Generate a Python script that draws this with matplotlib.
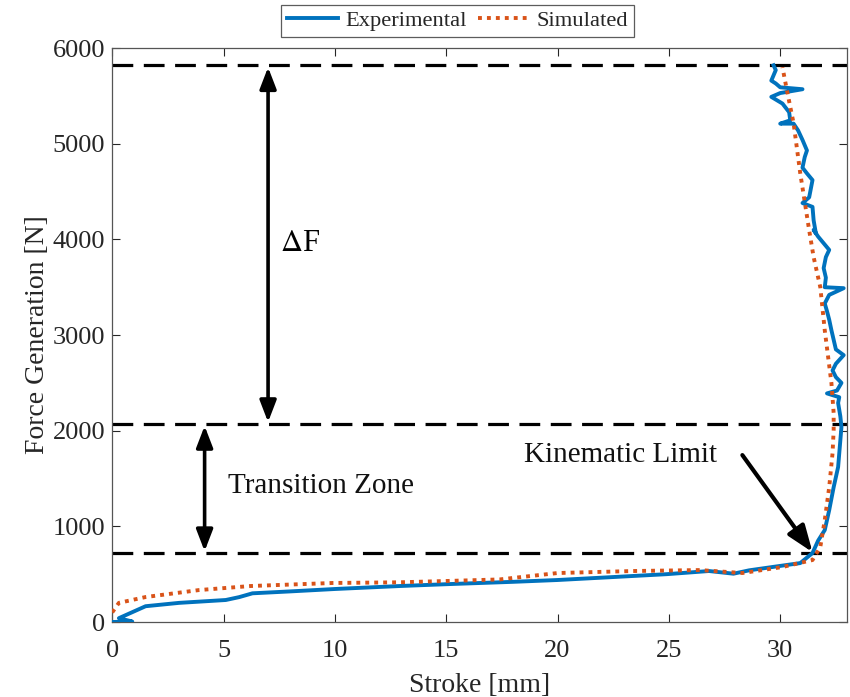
import matplotlib
matplotlib.use("Agg")
import matplotlib.pyplot as plt
from matplotlib.patches import FancyArrowPatch
from matplotlib.lines import Line2D

plt.rcParams['font.family'] = ['Liberation Serif', 'DejaVu Serif']
plt.rcParams['mathtext.fontset'] = 'stix'

# Measured force-stroke response
stroke_exp = [0.0, 0.9, 0.3, 1.5, 3.0, 5.1, 5.7, 6.3, 8.0, 10.0, 12.9, 15.2, 18.0,
              20.0, 22.5, 24.9, 26.8, 27.9, 28.6, 29.5, 30.9, 31.45, 31.7, 32.0,
              32.2, 32.4, 32.6, 32.7, 32.75, 32.7, 32.6, 32.65, 32.1, 32.55, 32.75,
              32.5, 32.35, 32.5, 32.85, 32.5, 32.4, 32.3, 32.2, 32.1, 32.0, 32.2,
              32.85, 32.0, 32.05, 31.95, 32.05, 32.2, 31.95, 31.7, 31.5, 31.6,
              31.5, 31.45, 31.0, 31.3, 31.45, 31.2, 31.0, 31.1, 31.2, 31.0, 30.8,
              30.6, 30.0, 30.45, 30.4, 30.1, 29.6, 30.0, 31.0, 30.0, 29.8, 29.6,
              29.8, 29.7]
force_exp = [0, 5, 40, 165, 200, 230, 260, 300, 320, 345, 376, 397, 420,
             439, 470, 500, 533, 505, 540, 570, 616, 721, 850, 961,
             1170, 1410, 1620, 1900, 2040, 2150, 2290, 2350, 2390, 2420, 2500,
             2560, 2630, 2700, 2790, 2850, 2950, 3050, 3160, 3250, 3330, 3420,
             3490, 3500, 3600, 3700, 3815, 3890, 3960, 4030, 4100, 4065,
             4200, 4340, 4380, 4440, 4620, 4690, 4750, 4860, 4930, 5040, 5140,
             5210, 5210, 5245, 5330, 5420, 5490, 5530, 5570, 5590, 5630, 5660,
             5770, 5820]

# Model prediction
stroke_sim = [0.0, 0.3, 1.5, 3.9, 6.2, 9.9, 12.9, 15.2, 17.4, 20.0, 23.4, 26.4,
              28.3, 30.1, 31.45, 31.8, 32.0, 32.2, 32.35, 32.4, 32.4, 32.3, 32.0,
              31.8, 31.5, 31.3, 30.9, 30.6, 30.3, 30.1]
force_sim = [100, 200, 261, 334, 376, 408, 415, 430, 445, 512, 533, 543,
             512, 575, 648, 784, 1066, 1410, 1766, 2006, 2184, 2497, 3050,
             3500, 3815, 4096, 4690, 5214, 5560, 5800]

# Reference force levels
force_levels = [5820, 2070, 720]

x_ticks = [0, 5, 10, 15, 20, 25, 30]
y_ticks = [0, 1000, 2000, 3000, 4000, 5000, 6000]

fig = plt.figure(figsize=(8.5, 6.97), dpi=100)
ax = fig.add_axes([0.132, 0.1076, 0.8645, 0.8234])

blue = '#0072BD'
orange = '#D95319'
axis_gray = '#262626'

for lvl in force_levels:
    ax.axhline(lvl, color='black', lw=2.3, dashes=(6.5, 3.3), zorder=1)

ax.plot(stroke_exp, force_exp, color=blue, lw=2.8, solid_joinstyle='round', zorder=3)
ax.plot(stroke_sim, force_sim, color=orange, lw=2.8, linestyle=(0, (1, 1.3)), zorder=4)

ax.set_xlim(0, 33)
ax.set_ylim(0, 6000)
ax.set_xticks(x_ticks)
ax.set_yticks(y_ticks)
ax.tick_params(direction='in', top=True, right=True, length=6, width=0.8,
               colors=axis_gray, labelsize=19)
ax.tick_params(axis='x', pad=13)
ax.tick_params(axis='y', pad=5)
for sp in ax.spines.values():
    sp.set_color('#555555')
    sp.set_linewidth(0.9)

ax.set_xlabel('Stroke [mm]', fontsize=20, color=axis_gray, labelpad=8)
ax.set_ylabel('Force Generation [N]', fontsize=20, color=axis_gray, labelpad=2)

def double_arrow(x, y0, y1):
    arr = FancyArrowPatch((x, y0), (x, y1),
                          arrowstyle='<|-|>,head_length=0.65,head_width=0.25',
                          mutation_scale=20, color='black', lw=2.6,
                          shrinkA=0, shrinkB=0, zorder=5)
    ax.add_patch(arr)

double_arrow(7.0, 2090, 5800)
double_arrow(4.15, 740, 2050)

ax.text(7.55, 3960, r'$\Delta$F', fontsize=22, va='center', ha='left', color='black')
ax.text(5.2, 1420, 'Transition Zone', fontsize=21, va='center', ha='left', color='#111111')
ax.text(18.5, 1745, 'Kinematic Limit', fontsize=21, va='center', ha='left', color='#111111')

kin = FancyArrowPatch((28.3, 1745), (31.45, 730),
                      arrowstyle='-|>,head_length=0.8,head_width=0.3',
                      mutation_scale=20, color='black', lw=3.0,
                      shrinkA=0, shrinkB=0, zorder=6)
ax.add_patch(kin)

handles = [Line2D([], [], color=blue, lw=2.8),
           Line2D([], [], color=orange, lw=2.8, linestyle=(0, (1, 1.3)))]
leg = fig.legend(handles, ['Experimental', 'Simulated'], loc='center',
                 bbox_to_anchor=(0.538, 0.97), ncol=2, fontsize=16.2,
                 frameon=True, fancybox=False, handlelength=2.3,
                 handletextpad=0.3, columnspacing=0.5, borderpad=0.25,
                 borderaxespad=0)
leg.get_frame().set_edgecolor('#333333')
leg.get_frame().set_linewidth(0.9)
for t in leg.get_texts():
    t.set_color(axis_gray)

fig.savefig('out.png', dpi=100)
